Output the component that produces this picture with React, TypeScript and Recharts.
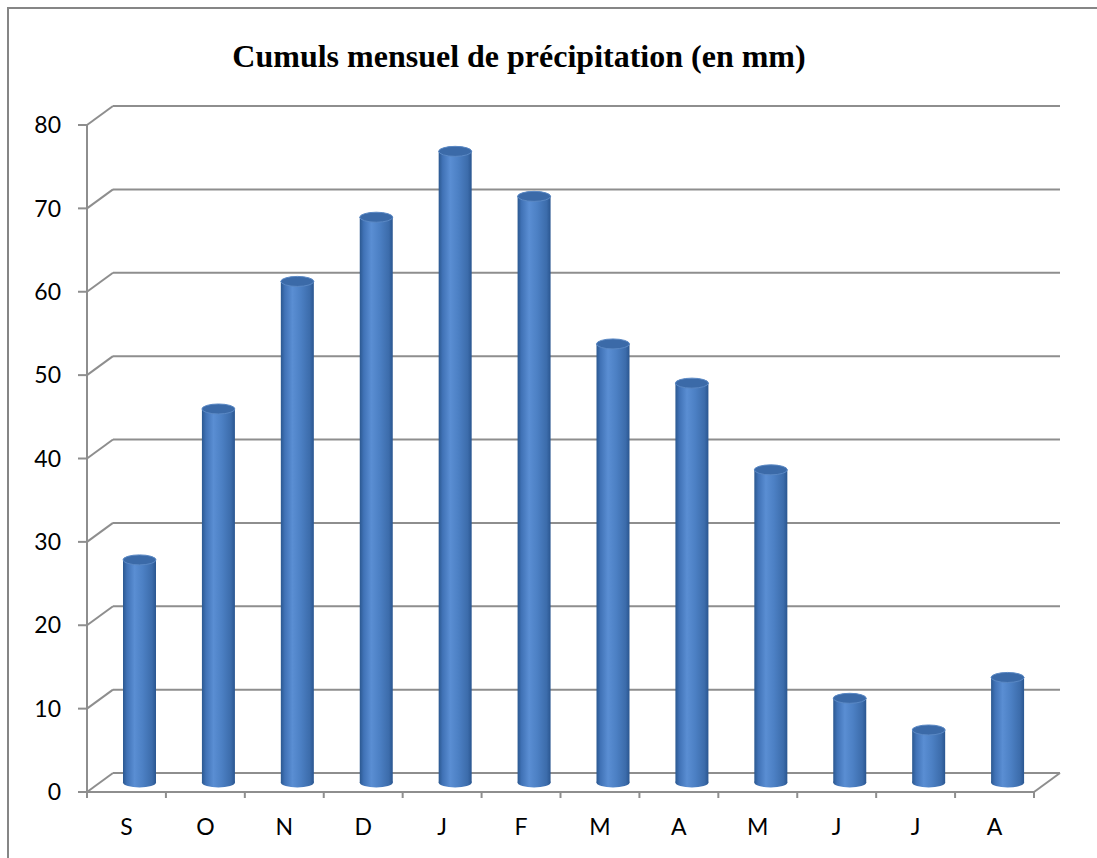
import React from 'react';
import { BarChart, Bar, XAxis, YAxis, CartesianGrid } from 'recharts';

const MONTHS = ['S', 'O', 'N', 'D', 'J', 'F', 'M', 'A', 'M', 'J', 'J', 'A'];
const RAIN_MM = [26.7, 44.8, 60.1, 67.8, 75.7, 70.3, 52.6, 47.9, 37.5, 10.1, 6.3, 12.6];
const Y_TICKS = [0, 10, 20, 30, 40, 50, 60, 70, 80];

const data = MONTHS.map((m, i) => ({ month: m, rain: RAIN_MM[i] }));

// pseudo-3D depth of the back wall
const DX = 26;
const DY = -19;
const PLOT_LEFT = 87;
const PLOT_RIGHT = 1034;
const PLOT_BOTTOM = 792;
const BAND = (PLOT_RIGHT - PLOT_LEFT) / MONTHS.length;
const LINE = '#8e8e8e';
const FONT = 'Lato, "Open Sans", sans-serif';

function GridLine(props: any) {
  const { x1, y1, x2 } = props;
  const isFloor = Math.abs(y1 - PLOT_BOTTOM) < 1.5;
  return (
    <g key={props.key}>
      <line x1={x1} y1={y1} x2={x1 + DX} y2={y1 + DY} stroke={LINE} strokeWidth={2} />
      <line x1={x1 + DX} y1={y1 + DY} x2={x2 + DX} y2={y1 + DY} stroke={LINE} strokeWidth={2} />
      {isFloor && <line x1={x2} y1={y1} x2={x2 + DX} y2={y1 + DY} stroke={LINE} strokeWidth={2} />}
    </g>
  );
}

function MonthTick(props: any) {
  const { x, y, payload, index } = props;
  const left = payload.coordinate - BAND / 2;
  const last = index === MONTHS.length - 1;
  return (
    <g>
      <line x1={left} y1={y} x2={left} y2={y + 6} stroke={LINE} strokeWidth={2} />
      {last && <line x1={left + BAND} y1={y} x2={left + BAND} y2={y + 6} stroke={LINE} strokeWidth={2} />}
      <text x={x} y={y + 43} textAnchor="middle" fontFamily={FONT} fontSize={23} fill="#000">
        {payload.value}
      </text>
    </g>
  );
}

function Cylinder(props: any) {
  const { x, y, width, height, index } = props;
  const cx = x + DX / 2;
  const topY = y + DY / 2;
  const botY = y + height + DY / 2;
  const rx = width / 2;
  const ry = 5;
  const gid = `cyl-${index}`;
  return (
    <g>
      <defs>
        <linearGradient id={gid} x1="0" y1="0" x2="1" y2="0">
          <stop offset="0%" stopColor="#2b5890" />
          <stop offset="12%" stopColor="#4072b6" />
          <stop offset="35%" stopColor="#5a8ed3" />
          <stop offset="60%" stopColor="#4c80c4" />
          <stop offset="88%" stopColor="#3c6cab" />
          <stop offset="100%" stopColor="#2a5690" />
        </linearGradient>
      </defs>
      <ellipse cx={cx + rx} cy={botY} rx={rx} ry={ry} fill={`url(#${gid})`} />
      <rect x={cx} y={topY} width={width} height={botY - topY} fill={`url(#${gid})`} />
      <ellipse cx={cx + rx} cy={topY} rx={rx} ry={ry} fill="#3b6aa8" stroke="#5a88c4" strokeWidth={1} />
    </g>
  );
}

export default function App() {
  return (
    <div style={{ position: 'fixed', left: 0, top: 0, width: 1097, height: 858, background: '#fff', overflow: 'hidden' }}>
      <div
        style={{
          position: 'absolute', left: 7, top: 7, width: 1100, height: 860,
          borderLeft: '2px solid #868686', borderTop: '2px solid #868686',
        }}
      />
      <div
        style={{
          position: 'absolute', left: 0, top: 37, width: 1038, textAlign: 'center',
          fontFamily: '"Liberation Serif", "Times New Roman", serif', fontWeight: 'bold',
          fontSize: 32, lineHeight: '38px', color: '#000',
        }}
      >
        Cumuls mensuel de précipitation (en mm)
      </div>
      <div style={{ position: 'absolute', left: 0, top: 0 }}>
        <BarChart width={1097} height={858} data={data} margin={{ top: 125, right: 1097 - PLOT_RIGHT, left: 0, bottom: 0 }}>
          <CartesianGrid vertical={false} horizontal={GridLine} />
          <XAxis
            dataKey="month"
            height={858 - PLOT_BOTTOM}
            axisLine={{ stroke: LINE, strokeWidth: 2 }}
            tickLine={false}
            tickSize={0}
            tickMargin={0}
            tick={MonthTick}
            interval={0}
          />
          <YAxis
            width={PLOT_LEFT}
            domain={[0, 80]}
            ticks={Y_TICKS}
            axisLine={{ stroke: LINE, strokeWidth: 2 }}
            tickLine={{ stroke: LINE, strokeWidth: 2 }}
            tickSize={9}
            tickMargin={17}
            tick={{ fontFamily: FONT, fontSize: 23, fill: '#000' }}
          />
          <Bar dataKey="rain" barSize={33} shape={Cylinder} isAnimationActive={false} />
        </BarChart>
      </div>
    </div>
  );
}
